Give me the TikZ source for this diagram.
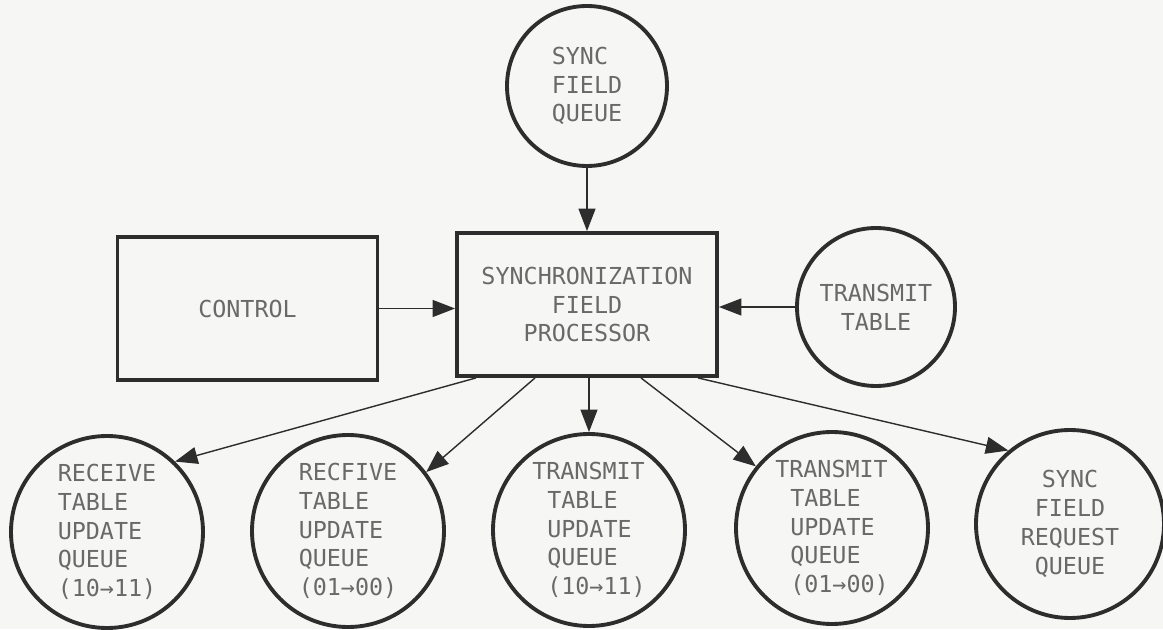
\documentclass[tikz,border=0pt]{standalone}
\usepackage{fontspec}
\newfontfamily\diagfont{DejaVu Sans Mono}
\usetikzlibrary{arrows.meta}
\usetikzlibrary{calc}

\definecolor{paper}{RGB}{246,246,244}
\definecolor{ink}{RGB}{45,45,45}
\definecolor{lettering}{RGB}{105,105,105}

\begin{document}
\begin{tikzpicture}[
    queue/.style={circle, draw=ink, line width=2.2pt, inner sep=0pt, text=lettering},
    blockbox/.style={rectangle, draw=ink, line width=2.2pt, minimum width=5.2cm, minimum height=2.86cm, inner sep=0pt, text=lettering, align=center},
    feed/.style={draw=ink, line width=0.8pt, -{Triangle[length=4.5mm, width=3.4mm]}},
    font=\diagfont\fontsize{13.3}{16.4}\selectfont
  ]
  \fill[paper] (0,0) rectangle (23.26,12.58);
  \useasboundingbox (0,0) rectangle (23.26,12.58);

  % top row
  \node[queue, minimum size=3.2cm, align=left] (sfq) at (11.74, 10.86) {SYNC\\FIELD\\QUEUE};

  % middle row
  \node[blockbox] (control) at (4.95, 6.41) {CONTROL};
  \node[blockbox] (proc) at (11.74, 6.49) {SYNCHRONIZATION\\FIELD\\PROCESSOR};
  \node[queue, minimum size=3.16cm, align=center] (ttab) at (17.52, 6.44) {TRANSMIT\\TABLE};

  % bottom row
  \node[queue, minimum size=3.84cm, align=left] (rq1) at (2.14, 1.94) {RECEIVE\\TABLE\\UPDATE\\QUEUE\\(10→11)};
  \node[queue, minimum size=3.84cm, align=left] (rq2) at (6.96, 1.96) {RECFIVE\\TABLE\\UPDATE\\QUEUE\\(01→00)};
  \node[queue, minimum size=3.84cm, align=left] (tq1) at (11.78, 1.98) {TRANSMIT\\\hspace*{0.3cm}TABLE\\\hspace*{0.3cm}UPDATE\\\hspace*{0.3cm}QUEUE\\\hspace*{0.3cm}(10→11)};
  \node[queue, minimum size=3.84cm, align=left] (tq2) at (16.64, 2.02) {TRANSMIT\\\hspace*{0.3cm}TABLE\\\hspace*{0.3cm}UPDATE\\\hspace*{0.3cm}QUEUE\\\hspace*{0.3cm}(01→00)};
  \node[queue, minimum size=3.76cm, align=center] (srq) at (21.40, 2.10) {SYNC\\FIELD\\REQUEST\\QUEUE};

  % inputs
  \draw[feed] (sfq.south) -- (proc.north);
  \draw[feed] (control.east) -- (proc.west |- control.east);
  \draw[feed] (ttab.west) -- (proc.east |- ttab.west);

  % outputs
  \draw[feed] ($(proc.south)+(-2.22,0)$) -- (rq1.46);
  \draw[feed] ($(proc.south)+(-1.04,0)$) -- (rq2.37);
  \draw[feed] (tq1.north |- proc.south) -- (tq1.north);
  \draw[feed] ($(proc.south)+(1.08,0)$) -- (tq2.141);
  \draw[feed] ($(proc.south)+(2.22,0)$) -- (srq.130);
\end{tikzpicture}
\end{document}
